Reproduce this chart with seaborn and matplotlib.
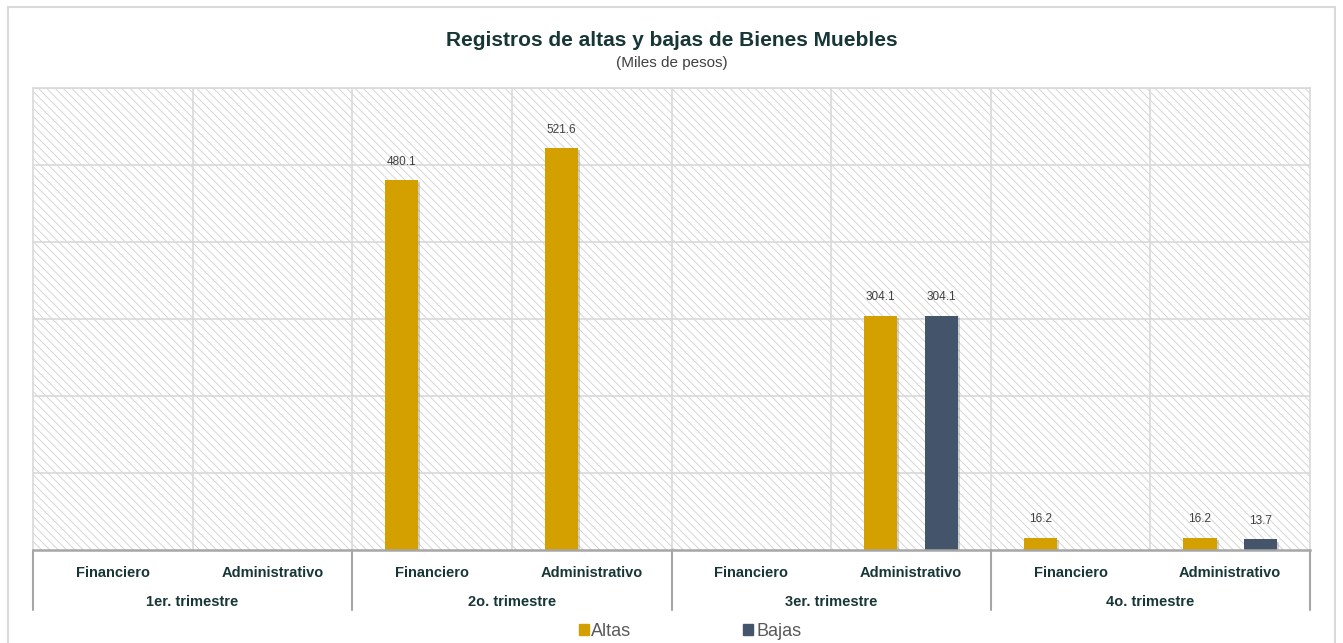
import matplotlib.pyplot as plt
import matplotlib.patheffects as pe
import numpy as np
import pandas as pd
import seaborn as sns
from matplotlib.lines import Line2D
from matplotlib.patches import Rectangle
from matplotlib.transforms import blended_transform_factory

trimestres = ["1er. trimestre", "2o. trimestre", "3er. trimestre", "4o. trimestre"]
tipos = ["Financiero", "Administrativo"]
altas = [0, 0, 480.1, 521.6, 0, 304.1, 16.2, 16.2]
bajas = [0, 0, 0, 0, 0, 304.1, 0, 13.7]

COL_ALTAS = "#D4A000"
COL_BAJAS = "#44546A"
TXT = "#173636"

cats = [f"{t}|{s}" for t in trimestres for s in tipos]
df = pd.DataFrame({
    "cat": cats * 2,
    "valor": altas + bajas,
    "serie": ["Altas"] * len(cats) + ["Bajas"] * len(cats),
})

sns.set_style("white")
plt.rcParams["font.family"] = ["Liberation Sans", "DejaVu Sans"]
plt.rcParams["hatch.color"] = "#d0d0d0"
plt.rcParams["hatch.linewidth"] = 0.6

fig = plt.figure(figsize=(13.43, 6.43), dpi=100)
ax = fig.add_axes([33 / 1343, 1 - 550 / 643, (1310 - 33) / 1343, (550 - 88) / 643])

# outer frame
fig.patches.append(Rectangle((8 / 1343, -0.05), (1335 - 8) / 1343, 1.05 - 7 / 643,
                             transform=fig.transFigure, fill=False,
                             edgecolor="#d9d9d9", lw=1.5))

ax.add_patch(Rectangle((0, 0), 1, 1, transform=ax.transAxes, facecolor="white",
                       edgecolor="#d0d0d0", hatch="\\" * 4, lw=0, zorder=0))

sns.barplot(data=df, x="cat", y="valor", hue="serie", order=cats,
            palette={"Altas": COL_ALTAS, "Bajas": COL_BAJAS}, saturation=1,
            width=0.76, gap=0.45, ax=ax, legend=False, zorder=3,
            edgecolor="none", linewidth=0)

shadow = [pe.SimplePatchShadow(offset=(1.5, -1.5), shadow_rgbFace="#808080", alpha=0.35),
          pe.Normal()]
for cont in ax.containers:
    for bar in cont:
        bar.set_path_effects(shadow)
        h = bar.get_height()
        if h > 0:
            ax.annotate(f"{h:.1f}", (bar.get_x() + bar.get_width() / 2, h),
                        xytext=(0, 9), textcoords="offset points",
                        ha="center", va="bottom", fontsize=8.5, color="#404040")

ax.set_xlim(-0.5, len(cats) - 0.5)
ax.set_ylim(0, 600)
ax.set_yticks(np.arange(0, 601, 100))
ax.set_yticklabels([])
ax.set_xticks([])
ax.set_xlabel("")
ax.set_ylabel("")
for y in np.arange(100, 601, 100):
    ax.axhline(y, color="#d9d9d9", lw=1.2, zorder=1)
for x in np.arange(0.5, len(cats) - 1, 1):
    ax.axvline(x, color="#d9d9d9", lw=1.2, zorder=1)
for side in ["left", "right", "top"]:
    ax.spines[side].set_color("#d9d9d9")
    ax.spines[side].set_linewidth(1.2)
ax.spines["bottom"].set_color("#a6a6a6")
ax.spines["bottom"].set_linewidth(1.8)
ax.spines["bottom"].set_zorder(5)

trans = blended_transform_factory(ax.transData, ax.transAxes)
for i, c in enumerate(cats):
    ax.text(i, -0.049, c.split("|")[1], transform=trans, ha="center", va="center",
            fontsize=10.5, fontweight="bold", color=TXT)
for g, t in enumerate(trimestres):
    ax.text(2 * g + 0.5, -0.112, t, transform=trans, ha="center", va="center",
            fontsize=10.5, fontweight="bold", color=TXT)
for b in np.arange(-0.5, len(cats), 2):
    ax.add_line(Line2D([b, b], [0, -0.13], transform=trans, color="#a6a6a6",
                       lw=1.5, clip_on=False))

fig.text(0.5, 1 - 40 / 643, "Registros de altas y bajas de Bienes Muebles",
         ha="center", va="center", fontsize=15, fontweight="bold", color=TXT)
fig.text(0.5, 1 - 63 / 643, "(Miles de pesos)", ha="center", va="center",
         fontsize=11, color="#404040")

handles = [Rectangle((0, 0), 1, 1, color=COL_ALTAS), Rectangle((0, 0), 1, 1, color=COL_BAJAS)]
fig.legend(handles, ["Altas", "Bajas"], loc="center", bbox_to_anchor=(690 / 1343, 1 - 631 / 643),
           ncol=2, frameon=False, fontsize=13, handlelength=0.55, handleheight=0.55,
           handletextpad=0.15, columnspacing=6.2, labelcolor="#595959")

fig.savefig("out.png", dpi=100, facecolor="white")
